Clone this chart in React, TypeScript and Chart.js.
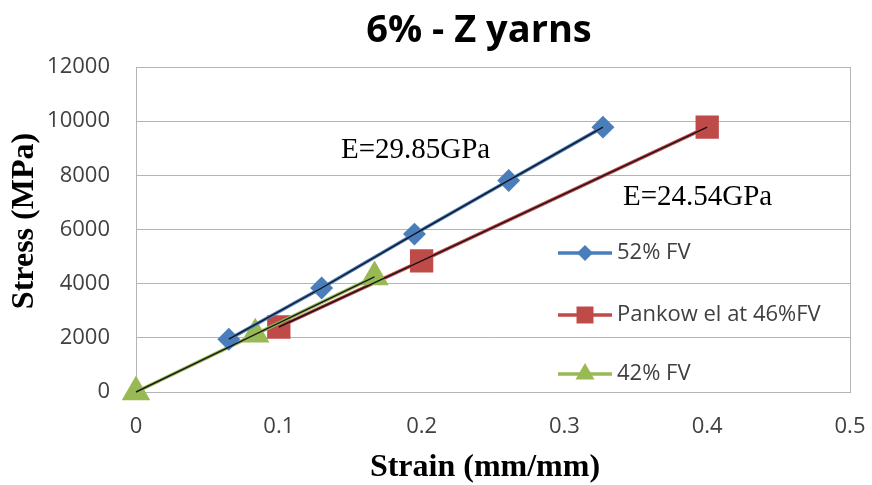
import React, { useEffect, useRef } from "react";
import { Chart, registerables } from "chart.js";

Chart.register(...registerables);

const chartTitle = "6% - Z yarns";
const xTitle = "Strain (mm/mm)";
const yTitle = "Stress (MPa)";

const seriesLabels = ["52% FV", "Pankow el at 46%FV", "42% FV"];

const strain52 = [0.065, 0.13, 0.195, 0.261, 0.327];
const stress52 = [1950, 3840, 5830, 7810, 9780];

const strainPankow = [0.1, 0.2, 0.4];
const stressPankow = [2400, 4840, 9780];

const strain42 = [0, 0.0835, 0.167];
const stress42 = [0, 2130, 4250];

const annotations = [
  { text: "E=29.85GPa", x: 0.1435, y: 8650 },
  { text: "E=24.54GPa", x: 0.341, y: 6920 },
];

const xTicks = [0, 0.1, 0.2, 0.3, 0.4, 0.5];
const yTicks = [0, 2000, 4000, 6000, 8000, 10000, 12000];

const BLUE = "#4a7ebb";
const RED = "#be4b48";
const GREEN = "#98b954";
const TREND = "rgba(10,10,20,0.9)";
const GRID = "#b4b4b4";

function pts(xs: number[], ys: number[]) {
  return xs.map((x, i) => ({ x, y: ys[i] }));
}

function drawMarker(ctx: CanvasRenderingContext2D, style: string, x: number, y: number, r: number) {
  ctx.beginPath();
  if (style === "rectRot") {
    ctx.moveTo(x - r, y);
    ctx.lineTo(x, y - r);
    ctx.lineTo(x + r, y);
    ctx.lineTo(x, y + r);
  } else if (style === "rect") {
    const s = r * Math.SQRT1_2;
    ctx.rect(x - s, y - s, 2 * s, 2 * s);
  } else {
    ctx.moveTo(x, y - r);
    ctx.lineTo(x + r * Math.sin((2 * Math.PI) / 3), y - r * Math.cos((2 * Math.PI) / 3));
    ctx.lineTo(x + r * Math.sin((4 * Math.PI) / 3), y - r * Math.cos((4 * Math.PI) / 3));
  }
  ctx.closePath();
  ctx.fill();
}

const textPlugin = {
  id: "textPlugin",
  afterDraw(chart: any) {
    const { ctx, chartArea, scales } = chart;
    ctx.save();
    ctx.fillStyle = "#000";
    ctx.font = 'bold 38px "Open Sans"';
    ctx.textAlign = "center";
    ctx.textBaseline = "alphabetic";
    ctx.fillText(chartTitle, 479, 42);
    ctx.font = 'bold 32px "Liberation Serif"';
    ctx.fillText(xTitle, 485, 476);
    ctx.save();
    ctx.translate(33, 221);
    ctx.rotate(-Math.PI / 2);
    ctx.fillText(yTitle, 0, 0);
    ctx.restore();
    ctx.font = '29px "Liberation Serif"';
    ctx.textAlign = "left";
    for (const a of annotations) {
      ctx.fillText(a.text, scales.x.getPixelForValue(a.x), scales.y.getPixelForValue(a.y));
    }
    const main = chart.data.datasets.filter((d: any) => !d.isTrend);
    const offs = [186, 248, 307];
    main.forEach((d: any, i: number) => {
      const y = chartArea.top + offs[i];
      const x0 = chartArea.left + 422;
      const x1 = x0 + 54;
      ctx.strokeStyle = d.borderColor;
      ctx.lineWidth = 3.5;
      ctx.beginPath();
      ctx.moveTo(x0, y);
      ctx.lineTo(x1, y);
      ctx.stroke();
      ctx.fillStyle = d.pointBackgroundColor;
      const r = d.pointStyle === "triangle" ? 11 : d.pointStyle === "rect" ? 12 : 8;
      drawMarker(ctx, d.pointStyle, (x0 + x1) / 2, y, r);
      ctx.fillStyle = "#404040";
      ctx.font = '22px "Open Sans"';
      ctx.textBaseline = "middle";
      ctx.fillText(d.label, x1 + 5, y);
    });
    ctx.restore();
  },
};

export default function App() {
  const ref = useRef<HTMLCanvasElement | null>(null);
  useEffect(() => {
    document.body.style.margin = "0";
    if (!ref.current) return;
    const mainDs = (label: string, data: any[], color: string, style: string, radius: number, order: number) => ({
      label,
      data,
      borderColor: color,
      backgroundColor: color,
      pointBackgroundColor: color,
      pointBorderColor: color,
      pointStyle: style,
      pointRadius: radius,
      pointHoverRadius: radius,
      borderWidth: 3.5,
      showLine: true,
      clip: false,
      order,
    });
    const trendDs = (data: any[]) => ({
      label: "trend",
      isTrend: true,
      data,
      borderColor: TREND,
      borderWidth: 1.4,
      pointRadius: 0,
      showLine: true,
      clip: false,
      order: 1,
    });
    const chart = new Chart(ref.current, {
      type: "scatter",
      data: {
        datasets: [
          mainDs(seriesLabels[0], pts(strain52, stress52), BLUE, "rectRot", 9, 3),
          mainDs(seriesLabels[1], pts(strainPankow, stressPankow), RED, "rect", 14, 5),
          mainDs(seriesLabels[2], pts(strain42, stress42), GREEN, "triangle", 13, 4),
          trendDs(pts(strain52, stress52)),
          trendDs(pts(strainPankow, stressPankow)),
          trendDs(pts(strain42, stress42)),
        ] as any,
      },
      options: {
        animation: false,
        responsive: false,
        layout: { padding: { left: 0, top: 67, right: 22, bottom: 0 } },
        plugins: {
          legend: { display: false },
          title: { display: false },
          tooltip: { enabled: false },
        },
        scales: {
          x: {
            type: "linear",
            min: 0,
            max: 0.5,
            afterFit: (s: any) => {
              s.height = 93;
              s.paddingLeft = 0;
              s.paddingRight = 0;
            },
            afterBuildTicks: (s: any) => {
              s.ticks = xTicks.map((v) => ({ value: v }));
            },
            ticks: {
              padding: 22,
              color: "#404040",
              font: { family: '"Open Sans"', size: 22 },
              callback: (v: any) => String(v),
            },
            grid: {
              drawTicks: false,
              color: (c: any) => (c.tick && c.tick.value === 0.5 ? GRID : "rgba(0,0,0,0)"),
            },
            border: { display: true, color: GRID, width: 1 },
          },
          y: {
            type: "linear",
            min: 0,
            max: 12000,
            afterFit: (s: any) => {
              s.width = 136;
              s.paddingTop = 0;
              s.paddingBottom = 0;
            },
            afterBuildTicks: (s: any) => {
              s.ticks = yTicks.map((v) => ({ value: v }));
            },
            ticks: {
              padding: 26,
              color: "#404040",
              font: { family: '"Open Sans"', size: 22 },
              callback: (v: any) => String(v),
            },
            grid: { drawTicks: false, color: GRID },
            border: { display: true, color: GRID, width: 1 },
          },
        },
      },
      plugins: [textPlugin],
    });
    return () => chart.destroy();
  }, []);
  return (
    <div style={{ width: 872, height: 485, background: "#fff" }}>
      <canvas ref={ref} width={872} height={485} />
    </div>
  );
}
